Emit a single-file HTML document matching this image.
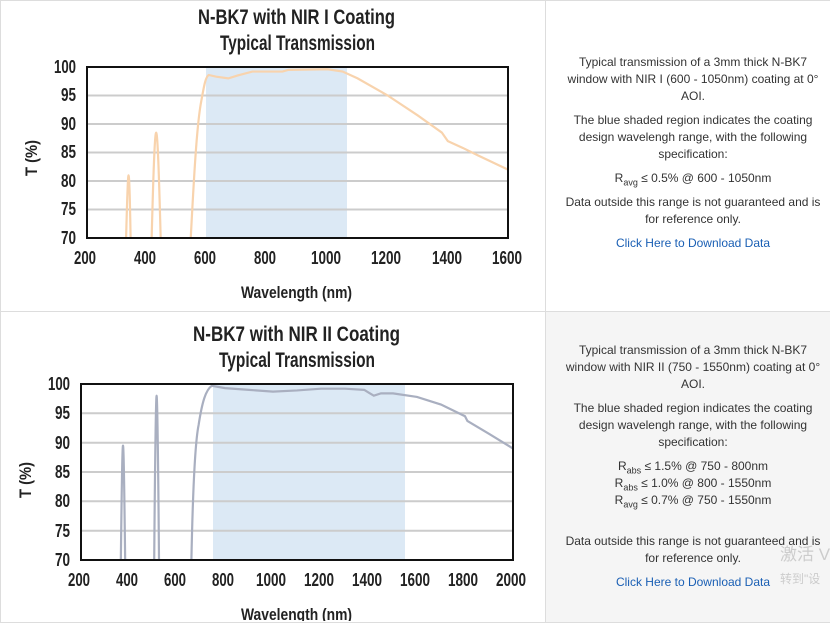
<!DOCTYPE html>
<html><head><meta charset="utf-8"><style>
body{margin:0;width:830px;height:621px;overflow:hidden;background:#fff;font-family:"Liberation Sans",sans-serif;position:relative}
.cell{position:absolute;box-sizing:border-box;border:1px solid #ddd}
.txt{position:absolute;left:548px;width:292px;text-align:center;font-size:12px;line-height:17px;color:#333}
.txt p{margin:0}
.lnk{color:#1a5fb4}
sub{font-size:9px;line-height:0}
.wm{position:absolute;color:#ccc;white-space:nowrap;font-family:"Liberation Sans","Noto Sans CJK SC",sans-serif}
</style></head><body>
<div class="cell" style="left:0;top:0;width:546px;height:312px"></div>
<div class="cell" style="left:545px;top:0;width:290px;height:312px"></div>
<div class="cell" style="left:0;top:311px;width:546px;height:312px"></div>
<div class="cell" style="left:545px;top:311px;width:290px;height:312px;background:#f5f5f5"></div>

<svg width="545" height="621" style="position:absolute;left:0;top:0" font-family="'Liberation Sans',sans-serif" font-weight="bold" fill="#222">
<!-- chart 1 -->
<text x="198" y="24" font-size="21" textLength="197" lengthAdjust="spacingAndGlyphs">N-BK7 with NIR I Coating</text>
<text x="220" y="50" font-size="21" textLength="155" lengthAdjust="spacingAndGlyphs">Typical Transmission</text>
<rect x="206" y="67" width="141" height="171" fill="#dce9f5"/>
<g stroke="#ccc" stroke-width="2">
<line x1="87" x2="508" y1="95.5" y2="95.5"/><line x1="87" x2="508" y1="124" y2="124"/><line x1="87" x2="508" y1="152.5" y2="152.5"/><line x1="87" x2="508" y1="181" y2="181"/><line x1="87" x2="508" y1="209.5" y2="209.5"/>
</g>
<path transform="translate(87,238) scale(0.3007,-5.7) translate(-200,-70)" vector-effect="non-scaling-stroke" fill="none" stroke="#f8d3ad" stroke-width="2.2" d="M330,70 C333,76 336,81 338,81 C341,81 343,76 345,70 M415,70 C420,80 425,88.5 430,88.5 C435,88.5 440,80 445,70 M545,70 C555,80 565,90 580,94 C590,97 595,98.3 605,98.6 L630,98.3 L670,98 L700,98.5 L750,99.2 L850,99.2 L870,99.5 L1000,99.6 L1050,99.2 L1100,98 L1200,95 L1300,91.5 L1380,88.5 L1400,87 L1450,85.8 L1500,84.5 L1600,82"/>
<rect x="87" y="67" width="421" height="171" fill="none" stroke="#111" stroke-width="2"/>
<g font-size="18">
<text x="54" y="73" textLength="22" lengthAdjust="spacingAndGlyphs">100</text><text x="61" y="101" textLength="15" lengthAdjust="spacingAndGlyphs">95</text><text x="61" y="130" textLength="15" lengthAdjust="spacingAndGlyphs">90</text><text x="61" y="158" textLength="15" lengthAdjust="spacingAndGlyphs">85</text><text x="61" y="187" textLength="15" lengthAdjust="spacingAndGlyphs">80</text><text x="61" y="215" textLength="15" lengthAdjust="spacingAndGlyphs">75</text><text x="61" y="244" textLength="15" lengthAdjust="spacingAndGlyphs">70</text>
</g>
<g font-size="18">
<text x="74" y="264" textLength="22" lengthAdjust="spacingAndGlyphs">200</text><text x="134" y="264" textLength="22" lengthAdjust="spacingAndGlyphs">400</text><text x="194" y="264" textLength="22" lengthAdjust="spacingAndGlyphs">600</text><text x="254" y="264" textLength="22" lengthAdjust="spacingAndGlyphs">800</text><text x="311" y="264" textLength="30" lengthAdjust="spacingAndGlyphs">1000</text><text x="371" y="264" textLength="30" lengthAdjust="spacingAndGlyphs">1200</text><text x="432" y="264" textLength="30" lengthAdjust="spacingAndGlyphs">1400</text><text x="492" y="264" textLength="30" lengthAdjust="spacingAndGlyphs">1600</text>
</g>
<text x="241" y="298" font-size="17" textLength="111" lengthAdjust="spacingAndGlyphs">Wavelength (nm)</text>
<text transform="translate(37,158) rotate(-90)" x="-18" font-size="17" textLength="36" lengthAdjust="spacingAndGlyphs">T (%)</text>

<!-- chart 2 -->
<text x="193" y="341" font-size="21" textLength="207" lengthAdjust="spacingAndGlyphs">N-BK7 with NIR II Coating</text>
<text x="219" y="367" font-size="21" textLength="156" lengthAdjust="spacingAndGlyphs">Typical Transmission</text>
<rect x="213" y="384" width="192" height="176" fill="#dce9f5"/>
<g stroke="#ccc" stroke-width="2">
<line x1="81" x2="513" y1="413.3" y2="413.3"/><line x1="81" x2="513" y1="442.7" y2="442.7"/><line x1="81" x2="513" y1="472" y2="472"/><line x1="81" x2="513" y1="501.3" y2="501.3"/><line x1="81" x2="513" y1="530.7" y2="530.7"/>
</g>
<path transform="translate(81,560) scale(0.24,-5.867) translate(-200,-70)" vector-effect="non-scaling-stroke" fill="none" stroke="#a9afc0" stroke-width="2.2" d="M366,70 C369,80 372,89.5 375,89.5 C378,89.5 381,80 384,70 M505,70 C508,85 512,98 515,98 C518,98 522,85 525,70 M660,70 C665,80 675,90 690,93 C705,97 720,99 745,99.7 L800,99.3 L900,99 L1000,98.7 L1100,98.9 L1200,99.2 L1300,99.2 L1380,99 L1400,98.5 L1420,98 L1450,98.4 L1500,98.4 L1600,97.8 L1700,96.5 L1800,94.5 L1810,93.7 L1900,91.5 L2000,89"/>
<rect x="81" y="384" width="432" height="176" fill="none" stroke="#111" stroke-width="2"/>
<g font-size="18">
<text x="48" y="390" textLength="22" lengthAdjust="spacingAndGlyphs">100</text><text x="55" y="419" textLength="15" lengthAdjust="spacingAndGlyphs">95</text><text x="55" y="449" textLength="15" lengthAdjust="spacingAndGlyphs">90</text><text x="55" y="478" textLength="15" lengthAdjust="spacingAndGlyphs">85</text><text x="55" y="507" textLength="15" lengthAdjust="spacingAndGlyphs">80</text><text x="55" y="537" textLength="15" lengthAdjust="spacingAndGlyphs">75</text><text x="55" y="566" textLength="15" lengthAdjust="spacingAndGlyphs">70</text>
</g>
<g font-size="18">
<text x="68" y="586" textLength="22" lengthAdjust="spacingAndGlyphs">200</text><text x="116" y="586" textLength="22" lengthAdjust="spacingAndGlyphs">400</text><text x="164" y="586" textLength="22" lengthAdjust="spacingAndGlyphs">600</text><text x="212" y="586" textLength="22" lengthAdjust="spacingAndGlyphs">800</text><text x="256" y="586" textLength="30" lengthAdjust="spacingAndGlyphs">1000</text><text x="304" y="586" textLength="30" lengthAdjust="spacingAndGlyphs">1200</text><text x="352" y="586" textLength="30" lengthAdjust="spacingAndGlyphs">1400</text><text x="400" y="586" textLength="30" lengthAdjust="spacingAndGlyphs">1600</text><text x="448" y="586" textLength="30" lengthAdjust="spacingAndGlyphs">1800</text><text x="496" y="586" textLength="30" lengthAdjust="spacingAndGlyphs">2000</text>
</g>
<text x="241" y="620" font-size="17" textLength="111" lengthAdjust="spacingAndGlyphs">Wavelength (nm)</text>
<text transform="translate(31,480) rotate(-90)" x="-18" font-size="17" textLength="36" lengthAdjust="spacingAndGlyphs">T (%)</text>
</svg>

<div class="txt" style="top:54px;left:548px;width:290px">
<p>Typical transmission of a 3mm thick N-BK7<br>window with NIR I (600 - 1050nm) coating at 0°<br>AOI.</p>
<p style="margin-top:7px">The blue shaded region indicates the coating<br>design wavelengh range, with the following<br>specification:</p>
<p style="margin-top:7px">R<sub>avg</sub> ≤ 0.5% @ 600 - 1050nm</p>
<p style="margin-top:7px">Data outside this range is not guaranteed and is<br>for reference only.</p>
<p style="margin-top:7px" class="lnk">Click Here to Download Data</p>
</div>

<div class="txt" style="top:342px;left:548px;width:290px">
<p>Typical transmission of a 3mm thick N-BK7<br>window with NIR II (750 - 1550nm) coating at 0°<br>AOI.</p>
<p style="margin-top:7px">The blue shaded region indicates the coating<br>design wavelengh range, with the following<br>specification:</p>
<p style="margin-top:7px">R<sub>abs</sub> ≤ 1.5% @ 750 - 800nm<br>R<sub>abs</sub> ≤ 1.0% @ 800 - 1550nm<br>R<sub>avg</sub> ≤ 0.7% @ 750 - 1550nm</p>
<p style="margin-top:24px">Data outside this range is not guaranteed and is<br>for reference only.</p>
<p style="margin-top:7px" class="lnk">Click Here to Download Data</p>
</div>
<div class="wm" style="left:780px;top:545px;font-size:17px;line-height:20px">激活 V</div>
<div class="wm" style="left:780px;top:572px;font-size:12px;line-height:14px">转到"设</div>
</body></html>
